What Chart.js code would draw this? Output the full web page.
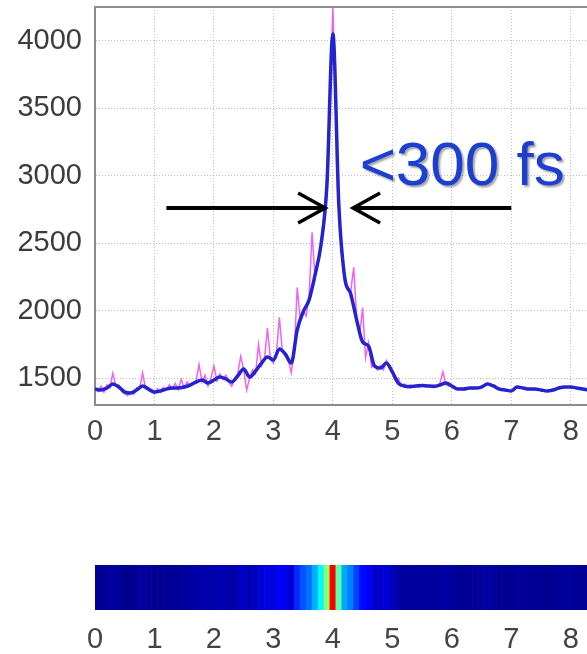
<!DOCTYPE html>
<html lang="en">
<head>
<meta charset="utf-8">
<title>Pulse trace</title>
<script src="https://cdn.jsdelivr.net/npm/chart.js@4"></script>
<style>
  html, body { margin: 0; padding: 0; background: #fff; overflow: hidden; }
  body { width: 587px; height: 654px; position: relative; }
  #trace { position: absolute; left: 0; top: 0; }
  #strip { position: absolute; left: 0; top: 540px; }
</style>
</head>
<body>
<canvas id="trace" width="610" height="455" style="width:610px;height:455px"></canvas>
<canvas id="strip" width="610" height="114" style="width:610px;height:114px"></canvas>

<script>
  // raw counts, one sample every 0.05 on the time axis (0 .. 8.3)
  const rawStep = 0.05;
  const rawCounts = [
    1425, 1400, 1440, 1395, 1450, 1430, 1535, 1440, 1450, 1400,
    1385, 1370, 1395, 1380, 1430, 1420, 1540, 1420, 1410, 1395,
    1385, 1420, 1395, 1430, 1410, 1450, 1420, 1460, 1415, 1490,
    1425, 1470, 1440, 1465, 1480, 1600, 1470, 1520, 1440, 1500,
    1590, 1480, 1530, 1490, 1520, 1470, 1440, 1500, 1530, 1660,
    1560, 1410, 1500, 1560, 1530, 1750, 1590, 1640, 1870, 1640,
    1610, 1680, 1950, 1700, 1660, 1640, 1540, 1680, 2170, 1940,
    2000, 1960, 2100, 2580, 2240, 2360, 2500, 2700, 2950, 3500,
    4250, 3450, 2780, 2400, 2250, 2180, 2140, 2320, 1950, 1820,
    2020, 1650, 1760, 1580, 1600, 1560, 1590, 1560, 1630, 1590,
    1560, 1480, 1500, 1440, 1455, 1430, 1450, 1435, 1445, 1430,
    1450, 1435, 1445, 1440, 1450, 1435, 1460, 1545, 1450, 1440,
    1445, 1425, 1415, 1425, 1410, 1425, 1430, 1420, 1430, 1425,
    1440, 1445, 1460, 1450, 1435, 1425, 1415, 1415, 1405, 1410,
    1400, 1420, 1440, 1430, 1425, 1420, 1415, 1420, 1415, 1410,
    1410, 1405, 1400, 1410, 1410, 1420, 1430, 1435, 1430, 1435,
    1430, 1425, 1425, 1420, 1415, 1410, 1410
  ];

  // smoothed counts, one sample every 0.1 (0 .. 8.3)
  const smoothStep = 0.1;
  const smoothCounts = [
    1418, 1411, 1426, 1455, 1433, 1396, 1389, 1411, 1441, 1418,
    1396, 1404, 1418, 1426, 1426, 1433, 1448, 1470, 1485, 1463,
    1485, 1507, 1493, 1470, 1515, 1567, 1507, 1552, 1611, 1656,
    1634, 1715, 1678, 1611, 1856, 1990, 2079, 2264, 2487, 2932,
    4050, 2784, 2242, 2123, 1930, 1767, 1737, 1589, 1574, 1611,
    1545, 1463, 1441, 1436, 1441, 1445, 1441, 1438, 1448, 1463,
    1441, 1418, 1418, 1426, 1426, 1433, 1455, 1441, 1418, 1411,
    1404, 1433, 1426, 1418, 1418, 1411, 1404, 1411, 1426, 1433,
    1433, 1426, 1418, 1411
  ];

  const yTicks = [1500, 2000, 2500, 3000, 3500, 4000];
  const xTicks = [0, 1, 2, 3, 4, 5, 6, 7, 8];

  // annotation: width marker and label
  const fwhmLevel = 2760;
  const leftArrow = [1.2, 3.87];
  const rightArrow = [7.0, 4.34];
  const widthLabel = '<300 fs';
  const labelAt = [4.45, 2932];

  const xMax = 8.66;
  const colourRange = [1350, 4440];
  const tickFont = { family: '"Liberation Sans", Arial, sans-serif', size: 29 };
  const frameColor = '#8c8c8c';
  const gridColor = '#bdbdbd';

  const rawTime = rawCounts.map((_, i) => +(i * rawStep).toFixed(2));
  const smoothTime = smoothCounts.map((_, i) => +(i * smoothStep).toFixed(2));

  function setTicks(list) {
    return (scale) => { scale.ticks = list.map(v => ({ value: v })); };
  }

  function jet(v) {
    const t = Math.min(1, Math.max(0, (v - colourRange[0]) / (colourRange[1] - colourRange[0])));
    const c = (k) => Math.round(255 * Math.min(1, Math.max(0, 1.5 - Math.abs(4 * t - k))));
    return 'rgb(' + c(3) + ',' + c(2) + ',' + c(1) + ')';
  }

  function drawArrow(ctx, x0, x1, yy) {
    const dir = Math.sign(x1 - x0);
    ctx.strokeStyle = '#000';
    ctx.lineWidth = 4;
    ctx.beginPath(); ctx.moveTo(x0, yy); ctx.lineTo(x1, yy); ctx.stroke();
    ctx.lineWidth = 3.5;
    ctx.beginPath();
    ctx.moveTo(x1 - dir * 27, yy - 15);
    ctx.lineTo(x1, yy);
    ctx.lineTo(x1 - dir * 27, yy + 15);
    ctx.stroke();
  }

  const overlay = {
    id: 'overlay',
    afterDatasetsDraw(chart) {
      const { ctx, chartArea: a, scales: { x, y } } = chart;
      ctx.save();
      ctx.strokeStyle = frameColor;
      ctx.lineWidth = 2;
      ctx.beginPath(); ctx.moveTo(a.left, a.top); ctx.lineTo(a.right, a.top); ctx.stroke();

      const yy = y.getPixelForValue(fwhmLevel);
      drawArrow(ctx, x.getPixelForValue(leftArrow[0]), x.getPixelForValue(leftArrow[1]), yy);
      drawArrow(ctx, x.getPixelForValue(rightArrow[0]), x.getPixelForValue(rightArrow[1]), yy);

      ctx.font = '62px "Liberation Sans", Arial, sans-serif';
      ctx.fillStyle = '#1c3ed2';
      ctx.textBaseline = 'alphabetic';
      ctx.shadowColor = 'rgba(0,0,0,0.35)';
      ctx.shadowOffsetX = 2;
      ctx.shadowOffsetY = 2;
      ctx.shadowBlur = 2;
      ctx.fillText(widthLabel, x.getPixelForValue(labelAt[0]), y.getPixelForValue(labelAt[1]));
      ctx.restore();
    }
  };

  new Chart(document.getElementById('trace'), {
    type: 'line',
    data: {
      datasets: [
        {
          label: 'smoothed',
          data: smoothCounts.map((v, i) => ({ x: smoothTime[i], y: v })),
          borderColor: '#2323cf',
          borderWidth: 3.5,
          pointRadius: 0,
          cubicInterpolationMode: 'monotone',
          fill: false
        },
        {
          label: 'raw',
          data: rawCounts.map((v, i) => ({ x: rawTime[i], y: v })),
          borderColor: 'rgba(238,70,238,0.85)',
          borderWidth: 1.5,
          pointRadius: 0,
          fill: false
        }
      ]
    },
    options: {
      responsive: false,
      animation: false,
      layout: { padding: { top: 7, left: 0, right: 0, bottom: 0 } },
      plugins: { legend: { display: false }, tooltip: { enabled: false } },
      scales: {
        x: {
          type: 'linear',
          min: 0,
          max: xMax,
          afterBuildTicks: setTicks(xTicks),
          afterFit(s) { s.height = 50; s.paddingLeft = 0; s.paddingRight = 0; },
          ticks: { font: tickFont, color: '#444', padding: 10, maxRotation: 0, autoSkip: false,
                   callback: (v) => String(v) },
          grid: { color: gridColor, lineWidth: 1, drawTicks: false },
          border: { display: true, color: frameColor, width: 2, dash: [1, 2] }
        },
        y: {
          type: 'linear',
          min: 1300,
          max: 4250,
          afterBuildTicks: setTicks(yTicks),
          afterFit(s) { s.width = 95; s.paddingTop = 0; s.paddingBottom = 0; },
          ticks: { font: tickFont, color: '#3c3c3c', padding: 13, autoSkip: false,
                   callback: (v) => String(v) },
          grid: { color: gridColor, lineWidth: 1, drawTicks: false },
          border: { display: true, color: frameColor, width: 2, dash: [1, 2] }
        }
      }
    },
    plugins: [overlay]
  });

  // colour strip: one full-height bar per smoothed sample
  new Chart(document.getElementById('strip'), {
    type: 'bar',
    data: {
      datasets: [{
        data: smoothCounts.map((v, i) => ({ x: smoothTime[i], y: 1 })),
        backgroundColor: smoothCounts.map(jet),
        borderWidth: 0,
        barPercentage: 1,
        categoryPercentage: 1
      }]
    },
    options: {
      responsive: false,
      animation: false,
      layout: { padding: { top: 25, left: 95, right: 0, bottom: 0 } },
      plugins: { legend: { display: false }, tooltip: { enabled: false } },
      scales: {
        x: {
          type: 'linear',
          offset: false,
          min: 0,
          max: xMax,
          afterBuildTicks: setTicks(xTicks),
          afterFit(s) { s.height = 44; s.paddingLeft = 0; s.paddingRight = 0; },
          ticks: { font: tickFont, color: '#444', padding: 5, maxRotation: 0, autoSkip: false,
                   callback: (v) => String(v) },
          grid: { display: false },
          border: { display: false }
        },
        y: { display: false, min: 0, max: 1 }
      }
    }
  });
</script>
</body>
</html>
